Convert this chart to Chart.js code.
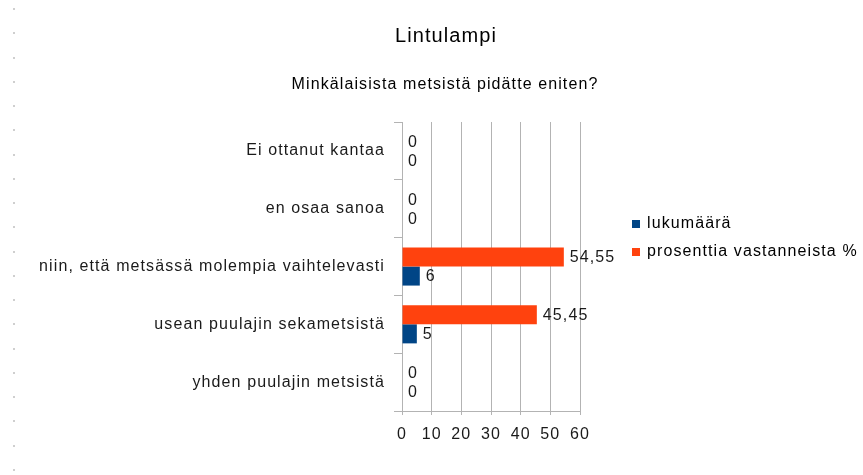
<!DOCTYPE html>
<html>
<head>
<meta charset="utf-8">
<script src="https://cdn.jsdelivr.net/npm/chart.js@4/dist/chart.umd.min.js"></script>
<style>
  html, body { margin: 0; padding: 0; background: #fff; }
  canvas { display: block; }
</style>
</head>
<body>
<canvas id="kaavio" width="863" height="475"></canvas>
<script>
const otsikko = "Lintulampi";
const alaotsikko = "Minkälaisista metsistä pidätte eniten?";
const kategoriat = [
  "Ei ottanut kantaa",
  "en osaa sanoa",
  "niin, että metsässä molempia vaihtelevasti",
  "usean puulajin sekametsistä",
  "yhden puulajin metsistä"
];
const lukumaara = [0, 0, 6, 5, 0];
const prosentit = [0, 0, 54.55, 45.45, 0];
const sarjanimet = ["lukumäärä", "prosenttia vastanneista %"];
const xTicks = [0, 10, 20, 30, 40, 50, 60];

const fontti = "'Liberation Sans', Arial, sans-serif";
const valit = "1.1px";
const harmaa = "#b3b3b3";

// kirjainväli kaikkeen tekstiin
const kirjainvali = {
  id: "kirjainvali",
  beforeUpdate(chart) { chart.ctx.letterSpacing = valit; },
  beforeDraw(chart) { chart.ctx.letterSpacing = valit; }
};

// arvot palkkien päihin
const arvot = {
  id: "arvot",
  afterDatasetsDraw(chart) {
    let ctx = chart.ctx;
    ctx.save();
    ctx.font = "16px " + fontti;
    ctx.fillStyle = "#1a1a1a";
    ctx.textAlign = "left";
    ctx.textBaseline = "middle";
    chart.data.datasets.forEach((ds, i) => {
      let meta = chart.getDatasetMeta(i);
      meta.data.forEach((el, j) => {
        let txt = String(ds.data[j]).replace(".", ",");
        ctx.fillText(txt, el.x + 6, el.y + 1);
      });
    });
    ctx.restore();
  }
};

// otsikot, selite ja reunan pisteet
const koristeet = {
  id: "koristeet",
  afterDraw(chart) {
    let ctx = chart.ctx;
    ctx.save();
    ctx.fillStyle = "#000";
    ctx.textAlign = "center";
    ctx.textBaseline = "alphabetic";
    ctx.font = "20px " + fontti;
    ctx.fillText(otsikko, 446, 42);
    ctx.font = "16px " + fontti;
    ctx.fillText(alaotsikko, 445, 89);

    // selite: lukumäärä ensin, vaikka datasetit ovat toisin päin
    let rivit = [chart.data.datasets[1], chart.data.datasets[0]];
    ctx.textAlign = "left";
    ctx.textBaseline = "middle";
    rivit.forEach((ds, k) => {
      let y = 224 + k * 28;
      ctx.fillStyle = ds.backgroundColor;
      ctx.fillRect(632, y - 4, 8, 8);
      ctx.fillStyle = "#000";
      ctx.fillText(ds.label, 647, y);
    });

    ctx.fillStyle = "#cfcfcf";
    for (let y = 9; y < 475; y += 24.25) {
      ctx.fillRect(13, Math.round(y) - 1, 2, 2);
    }
    ctx.restore();
  }
};

new Chart("kaavio", {
  type: "bar",
  data: {
    labels: kategoriat,
    datasets: [
      {
        label: sarjanimet[1],
        data: prosentit,
        backgroundColor: "#ff420e",
        categoryPercentage: 0.66,
        barPercentage: 1.0
      },
      {
        label: sarjanimet[0],
        data: lukumaara,
        backgroundColor: "#004586",
        categoryPercentage: 0.66,
        barPercentage: 1.0
      }
    ]
  },
  options: {
    indexAxis: "y",
    responsive: false,
    animation: false,
    layout: { padding: { top: 122, right: 283, bottom: 0, left: 0 } },
    plugins: {
      legend: { display: false },
      title: { display: false },
      tooltip: { enabled: false }
    },
    scales: {
      x: {
        min: xTicks[0],
        max: xTicks[xTicks.length - 1],
        afterBuildTicks(scale) {
          scale.ticks = xTicks.map(v => ({ value: v }));
        },
        afterFit(scale) { scale.height = 64; },
        grid: { color: harmaa, tickLength: 4, tickColor: harmaa },
        border: { color: harmaa },
        ticks: {
          autoSkip: false,
          maxRotation: 0,
          padding: 10,
          color: "#1a1a1a",
          font: { family: fontti, size: 16 }
        }
      },
      y: {
        afterFit(scale) { scale.width = 402; },
        grid: { drawOnChartArea: false, tickLength: 8, tickColor: harmaa, offset: true },
        border: { color: harmaa },
        ticks: {
          padding: 9,
          color: "#1a1a1a",
          font: { family: fontti, size: 16 }
        }
      }
    }
  },
  plugins: [kirjainvali, arvot, koristeet]
});
</script>
</body>
</html>
